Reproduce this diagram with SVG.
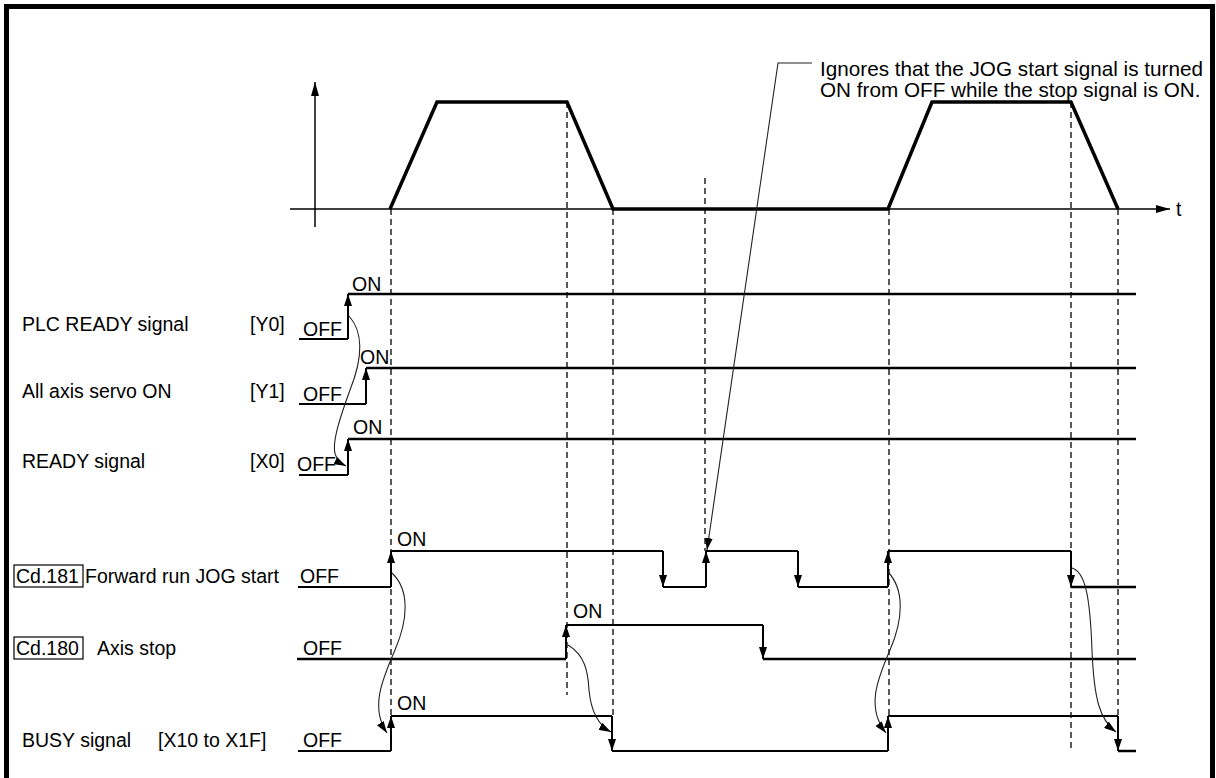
<svg xmlns="http://www.w3.org/2000/svg" width="1216" height="778" viewBox="0 0 1216 778">
<defs>
<style>
text{font-family:"Liberation Sans",Arial,sans-serif;font-size:19.5px;fill:#000}
.note{font-size:20.7px}
.sig{fill:none;stroke:#000;stroke-width:2}
.thk{stroke-width:2.5}
.edge{stroke:#000;stroke-width:2;marker-end:url(#ah)}
.dash{stroke:#000;stroke-width:1.3;stroke-dasharray:6,4;fill:none}
.cur{fill:none;stroke:#222;stroke-width:1.1;marker-end:url(#ah2)}
.spd{fill:none;stroke:#000;stroke-width:3.5;stroke-linejoin:miter}
.ax{stroke:#000;stroke-width:1.5;marker-end:url(#axh)}
.box{fill:none;stroke:#000;stroke-width:1.2}
</style>
<marker id="ah" viewBox="0 0 12 8" refX="12" refY="4" markerWidth="12" markerHeight="8" markerUnits="userSpaceOnUse" orient="auto"><path d="M0,0 L12,4 L0,8 z" fill="#000"/></marker>
<marker id="ah2" viewBox="0 0 12 8" refX="12" refY="4" markerWidth="12" markerHeight="8" markerUnits="userSpaceOnUse" orient="auto"><path d="M0,0 L12,4 L0,8 z" fill="#000"/></marker>
<marker id="axh" viewBox="0 0 14 8" refX="14" refY="4" markerWidth="14" markerHeight="8" markerUnits="userSpaceOnUse" orient="auto"><path d="M0,0 L14,4 L0,8 z" fill="#000"/></marker>
</defs>
<rect x="0" y="0" width="1216" height="778" fill="#fff"/>
<rect x="6.5" y="6.5" width="1206" height="800" fill="none" stroke="#000" stroke-width="5"/>

<g id="axes">
<line class="ax" x1="315" y1="227" x2="315" y2="82"/>
<line class="ax" x1="290" y1="209" x2="1170" y2="209"/>
<text x="1176" y="216">t</text>
</g>

<g id="speed">
<path class="spd" d="M390,209 L437,102 L567,102 L613,209 L888,209 L932,102 L1071,102 L1118,209"/>
</g>

<g id="guides">
<line class="dash" x1="391" y1="209" x2="391" y2="716"/>
<line class="dash" x1="567" y1="102" x2="567" y2="695"/>
<line class="dash" x1="613" y1="209" x2="613" y2="716"/>
<line class="dash" x1="705" y1="178" x2="705" y2="551"/>
<line class="dash" x1="889" y1="209" x2="889" y2="716"/>
<line class="dash" x1="1071" y1="102" x2="1071" y2="748"/>
<line class="dash" x1="1118" y1="209" x2="1118" y2="716"/>
</g>

<g id="plc-ready">
<text x="22" y="331">PLC READY signal</text>
<text x="250" y="331">[Y0]</text>
<text x="303" y="336">OFF</text>
<text x="352" y="291">ON</text>
<path class="sig" d="M299,339 H348"/>
<line class="edge" x1="348" y1="339" x2="348" y2="294"/>
<path class="sig thk" d="M348,294 H1136"/>
</g>

<g id="servo-on">
<text x="22" y="398">All axis servo ON</text>
<text x="250" y="398">[Y1]</text>
<text x="303" y="401">OFF</text>
<text x="360" y="364">ON</text>
<path class="sig" d="M299,404 H366"/>
<line class="edge" x1="366" y1="404" x2="366" y2="368"/>
<path class="sig thk" d="M366,368 H1136"/>
</g>

<g id="ready">
<text x="22" y="468">READY signal</text>
<text x="250" y="468">[X0]</text>
<text x="297" y="471">OFF</text>
<text x="353" y="434">ON</text>
<path class="sig" d="M299,475 H348"/>
<line class="edge" x1="348" y1="475" x2="348" y2="439"/>
<path class="sig thk" d="M348,439 H1136"/>
</g>

<g id="jog-start">
<rect class="box" x="14" y="565" width="69" height="22"/>
<text x="16" y="583">Cd.181</text>
<text x="85" y="583">Forward run JOG start</text>
<text x="300" y="583">OFF</text>
<text x="397" y="546">ON</text>
<path class="sig" d="M298,587 H391"/>
<line class="edge" x1="391" y1="587" x2="391" y2="551"/>
<path class="sig" d="M391,551 H663"/>
<line class="edge" x1="663" y1="551" x2="663" y2="587"/>
<path class="sig" d="M663,587 H706"/>
<line class="edge" x1="706" y1="587" x2="706" y2="551"/>
<path class="sig" d="M706,551 H798"/>
<line class="edge" x1="798" y1="551" x2="798" y2="587"/>
<path class="sig" d="M798,587 H888"/>
<line class="edge" x1="888" y1="587" x2="888" y2="551"/>
<path class="sig" d="M888,551 H1071"/>
<line class="edge" x1="1071" y1="551" x2="1071" y2="587"/>
<path class="sig thk" d="M1071,587 H1136"/>
</g>

<g id="axis-stop">
<rect class="box" x="14" y="637" width="69" height="22"/>
<text x="16" y="655">Cd.180</text>
<text x="97" y="655">Axis stop</text>
<text x="303" y="655">OFF</text>
<text x="573" y="618">ON</text>
<path class="sig thk" d="M297,659 H566"/>
<line class="edge" x1="566" y1="659" x2="566" y2="625"/>
<path class="sig" d="M566,625 H763"/>
<line class="edge" x1="763" y1="625" x2="763" y2="659"/>
<path class="sig thk" d="M763,659 H1136"/>
</g>

<g id="busy">
<text x="22" y="747">BUSY signal</text>
<text x="158" y="747">[X10 to X1F]</text>
<text x="303" y="747">OFF</text>
<text x="397" y="710">ON</text>
<path class="sig" d="M298,751 H391"/>
<line class="edge" x1="391" y1="751" x2="391" y2="716"/>
<path class="sig" d="M391,716 H612"/>
<line class="edge" x1="612" y1="716" x2="612" y2="751"/>
<path class="sig" d="M612,751 H888"/>
<line class="edge" x1="888" y1="751" x2="888" y2="716"/>
<path class="sig" d="M888,716 H1118"/>
<line class="edge" x1="1118" y1="716" x2="1118" y2="751"/>
<path class="sig thk" d="M1118,751 H1136"/>
</g>

<g id="note">
<text class="note" x="820" y="76">Ignores that the JOG start signal is turned</text>
<text class="note" x="820" y="97">ON from OFF while the stop signal is ON.</text>
</g>

<g id="connectors">
<path class="cur" d="M349,316 C366,335 360,365 350,390 C342,412 330,445 336,456 C339,462 342,464 346,466"/>
<path class="cur" d="M392,573 C410,590 408,620 395,650 C382,680 370,708 387,733"/>
<path class="cur" d="M568,645 C585,655 588,672 589,690 C591,712 598,725 611,732"/>
<path class="cur" d="M888,572 C905,590 903,620 890,650 C877,680 866,708 886,733"/>
<path class="cur" d="M1072,568 C1085,572 1090,595 1092,650 C1094,700 1100,720 1116,732"/>
<polyline class="cur" points="812,63 778,63 707,550"/>
</g>
</svg>
